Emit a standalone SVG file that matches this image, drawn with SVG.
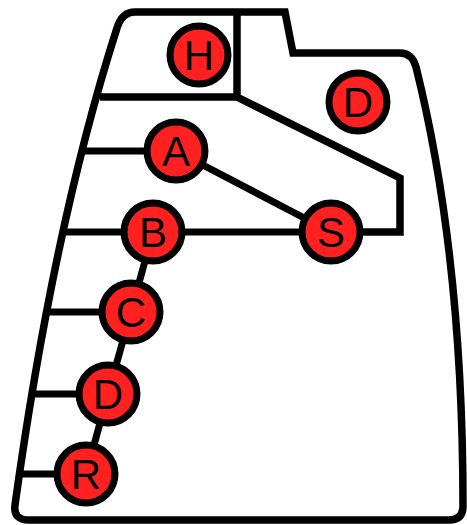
<svg xmlns="http://www.w3.org/2000/svg" width="467" height="525" viewBox="0 0 467 525">
<style>
.wall{fill:none;stroke:#000;stroke-width:7.5;stroke-linejoin:miter}
.edge{fill:none;stroke:#000;stroke-width:7}
.node circle{fill:#ff2020;stroke:#000;stroke-width:7}
.node text{font-family:"Liberation Sans",Arial,sans-serif;font-size:42px;text-anchor:middle;fill:#000}
</style>
<rect width="467" height="525" fill="#fff"/>
<g id="walls">
<path class="wall" d="M117,28 Q122,12 135,12 H285 L293,53 H400 Q412,53 416,67 Q463,256 463,506 Q463,520 449,520 H29 Q13,520 15,505 Q54,224 117,28 Z"/>
<path class="wall" d="M237,12 V97 L400,178 V232 H331"/>
<path class="wall" d="M100,97 H237"/>
</g>
<g id="connectors">
<path class="edge" d="M84,151 H176"/>
<path class="edge" d="M63,232 H153"/>
<path class="edge" d="M46,312 H131"/>
<path class="edge" d="M32,394 H108"/>
<path class="edge" d="M19,474 H86"/>
<path class="edge" d="M176,151 L331,232"/>
<path class="edge" d="M153,232 H331"/>
<path class="edge" d="M153,232 L131,312"/>
<path class="edge" d="M131,312 L108,394"/>
<path class="edge" d="M108,394 L86,474"/>
</g>
<g id="node-H" class="node"><circle cx="199" cy="55" r="29"/><text x="199" y="70">H</text></g>
<g id="node-D1" class="node"><circle cx="358" cy="102" r="29"/><text x="358" y="117">D</text></g>
<g id="node-A" class="node"><circle cx="176" cy="151" r="29"/><text x="176" y="166">A</text></g>
<g id="node-S" class="node"><circle cx="331" cy="232" r="29"/><text x="331" y="247">S</text></g>
<g id="node-B" class="node"><circle cx="153" cy="232" r="29"/><text x="153" y="247">B</text></g>
<g id="node-C" class="node"><circle cx="131" cy="312" r="29"/><text x="131" y="327">C</text></g>
<g id="node-D2" class="node"><circle cx="108" cy="394" r="29"/><text x="108" y="409">D</text></g>
<g id="node-R" class="node"><circle cx="86" cy="474" r="29"/><text x="86" y="489">R</text></g>
</svg>
